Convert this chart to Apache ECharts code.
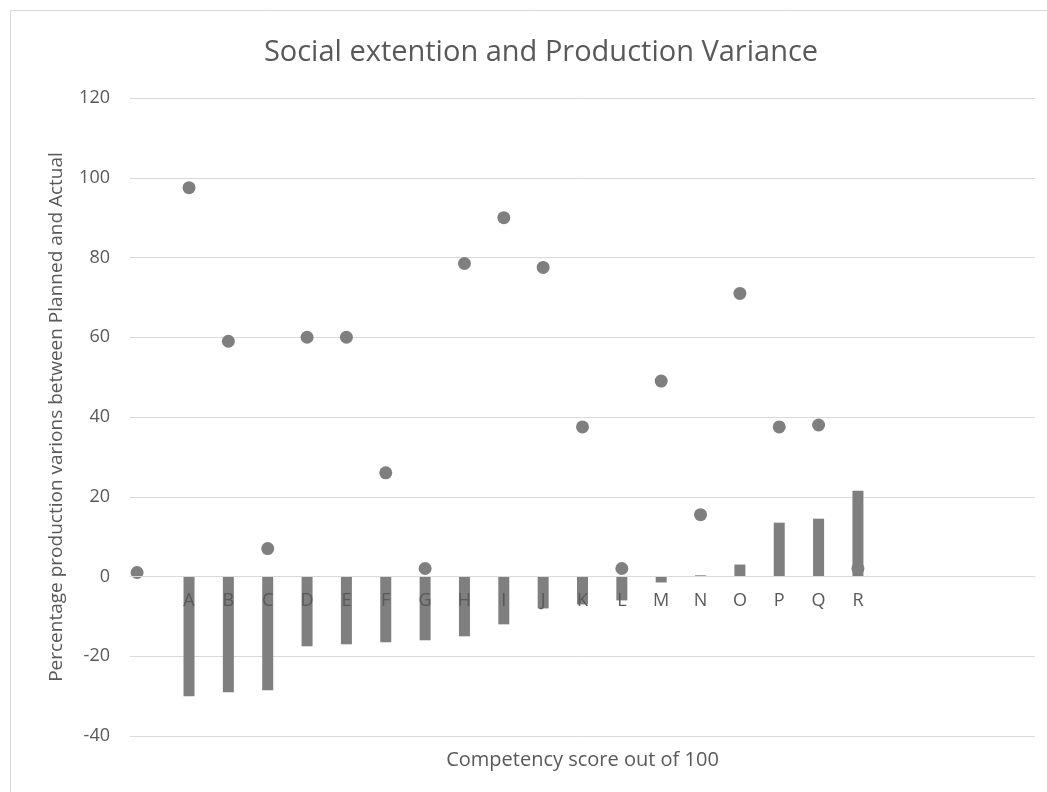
<!DOCTYPE html>
<html>
<head>
<meta charset="utf-8">
<title>Social extention and Production Variance</title>
<script src="https://cdn.jsdelivr.net/npm/echarts@6/dist/echarts.min.js"></script>
<style>
  html, body { margin: 0; padding: 0; background: #fff; }
  #chart { width: 1047px; height: 792px; }
</style>
</head>
<body>
<div id="chart"></div>
<script>
// categories on the axis (first slot and trailing slots are empty in the original)
var categories = ['', 'A', 'B', 'C', 'D', 'E', 'F', 'G', 'H', 'I', 'J', 'K', 'L', 'M', 'N', 'O', 'P', 'Q', 'R', '', '', '', ''];
// variance bars, one per category
var barValues = [null, -30, -29, -28.5, -17.5, -17, -16.5, -16, -15, -12, -8, -7, -6, -1.5, 0.3, 3, 13.5, 14.5, 21.5, null, null, null, null];
// scatter points: position along the axis and value
var dotX = [0.18, 1.5, 2.5, 3.5, 4.5, 5.5, 6.5, 7.5, 8.5, 9.5, 10.5, 11.5, 12.5, 13.5, 14.5, 15.5, 16.5, 17.5, 18.5];
var dotY = [1, 97.5, 59, 7, 60, 60, 26, 2, 78.5, 90, 77.5, 37.5, 2, 49, 15.5, 71, 37.5, 38, 2];

var chart = echarts.init(document.getElementById('chart'));
var grey = '#7f7f7f';
var textGrey = '#595959';
var font = 'Open Sans';

var dots = dotX.map(function(x, i) { return [x, dotY[i]]; });

chart.setOption({
  backgroundColor: '#fff',
  animation: false,
  graphic: [{
    type: 'rect',
    shape: { x: 10.5, y: 10.5, width: 1040, height: 790 },
    style: { fill: 'none', stroke: '#d9d9d9', lineWidth: 1 },
    silent: true
  }],
  title: {
    text: 'Social extention and Production Variance',
    left: 536,
    top: 33,
    textAlign: 'center',
    textStyle: { fontFamily: font, fontSize: 29, fontWeight: 'normal', color: textGrey }
  },
  grid: { left: 130, right: 12, top: 98, bottom: 56 },
  xAxis: [{
    // category labels sit just under the zero line, drawn over the bars
    type: 'category',
    data: categories,
    position: 'bottom',
    offset: -160,
    z: 3,
    axisLine: { onZero: false, lineStyle: { color: '#d9d9d9' } },
    axisTick: { show: false },
    axisLabel: { fontFamily: font, fontSize: 18, color: textGrey, margin: 16, interval: 0 },
    splitLine: { show: false }
  }, {
    type: 'value',
    min: 0,
    max: 23,
    position: 'bottom',
    offset: 0,
    name: 'Competency score out of 100',
    nameLocation: 'middle',
    nameGap: 14,
    nameTextStyle: { fontFamily: font, fontSize: 20, color: textGrey },
    axisLine: { show: false, onZero: false },
    axisTick: { show: false },
    axisLabel: { show: false },
    splitLine: { show: false }
  }],
  yAxis: {
    type: 'value',
    min: -40,
    max: 120,
    interval: 20,
    name: 'Percentage production varions between Planned and Actual',
    nameLocation: 'middle',
    nameGap: 64,
    nameTextStyle: { fontFamily: font, fontSize: 19, color: textGrey },
    axisLine: { show: false },
    axisTick: { show: false },
    axisLabel: { fontFamily: font, fontSize: 18, color: textGrey, margin: 20 },
    splitLine: { lineStyle: { color: '#d9d9d9', width: 1 } }
  },
  series: [{
    name: 'Variance',
    type: 'bar',
    xAxisIndex: 0,
    data: barValues,
    barWidth: 11,
    itemStyle: { color: grey }
  }, {
    name: 'Competency',
    type: 'scatter',
    xAxisIndex: 1,
    data: dots,
    symbolSize: 13,
    itemStyle: { color: grey, opacity: 1 }
  }]
});
</script>
</body>
</html>
